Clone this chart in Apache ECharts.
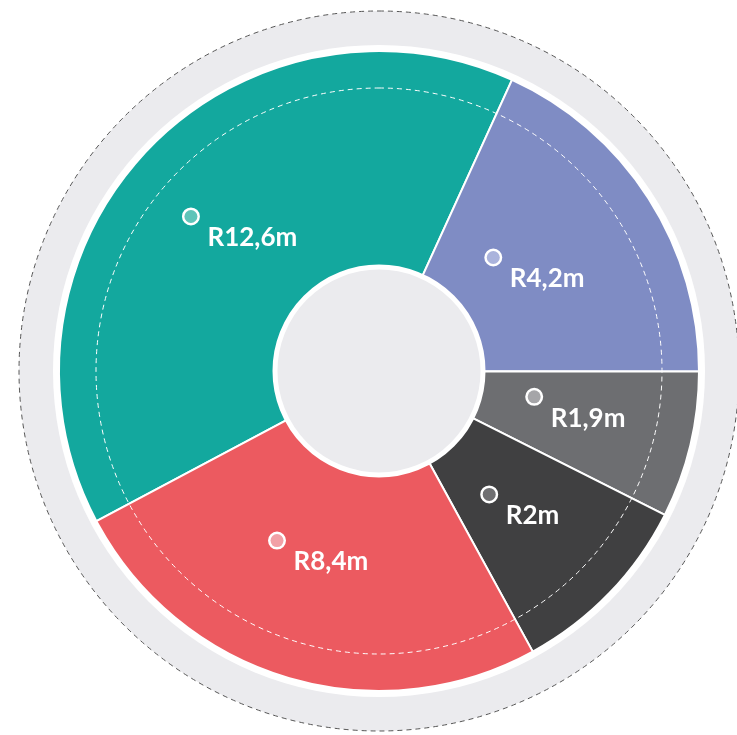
<!DOCTYPE html>
<html lang="en">
<head>
    <meta charset="UTF-8">
    <script src="https://cdn.jsdelivr.net/npm/echarts@6/dist/echarts.min.js"></script>
    <title>Ring</title>
</head>
<body>
    <style>
        html, body, #main {
            margin: 0;
            width: 737px;
            height: 735px;
            background: #fff;
        }
    </style>
    <div id="main"></div>
    <script>
        // slices, clockwise from the lower left
        var labels = ['R12,6m', 'R4,2m', 'R1,9m', 'R2m', 'R8,4m'];
        // share of the ring (%)
        var shares = [39.6, 18.2, 7.4, 9.6, 25.2];
        var colors = ['#13a89e', '#7f8cc4', '#6d6e71', '#404041', '#ec5a60'];
        var dotColors = ['#5ec4b9', '#aab3dc', '#a5a5a8', '#6f6f71', '#f2a0a6'];
        var labelOffsets = [[22, 5], [-10, 15], [3, -10], [12, -11], [14, -21]];

        var center = [379, 371];

        function plainCircle(radius, style, z) {
            return {
                type: 'pie',
                center: center,
                radius: radius,
                silent: true,
                z: z,
                label: { show: false },
                labelLine: { show: false },
                emphasis: { disabled: true },
                itemStyle: style,
                data: [{ value: 1 }]
            };
        }

        var rich = {};
        var data = labels.map(function (name, i) {
            rich['dot' + i] = {
                width: 13,
                height: 13,
                borderRadius: 8,
                borderWidth: 2.5,
                borderColor: '#fff',
                backgroundColor: dotColors[i],
                align: 'left',
                lineHeight: 16
            };
            return {
                name: name,
                value: shares[i],
                itemStyle: { color: colors[i] },
                label: { offset: labelOffsets[i] }
            };
        });
        rich.txt = {
            fontFamily: 'Lato',
            fontWeight: 'bold',
            fontSize: 26,
            color: '#fff',
            align: 'left',
            width: 100,
            lineHeight: 27,
            padding: [0, 0, 0, 23]
        };

        var chart = echarts.init(document.getElementById('main'));
        chart.setOption({
            animation: false,
            series: [
                plainCircle(360, { color: '#ebebee', borderColor: '#555', borderWidth: 1, borderType: [5, 4] }, 1),
                plainCircle(326, { color: '#fff' }, 2),
                {
                    type: 'pie',
                    center: center,
                    radius: [100, 320],
                    startAngle: 208,
                    z: 3,
                    avoidLabelOverlap: false,
                    silent: true,
                    itemStyle: { borderColor: '#fff', borderWidth: 2 },
                    label: {
                        show: true,
                        position: 'inside',
                        formatter: function (p) {
                            return '{dot' + p.dataIndex + '|}\n{txt|' + p.name + '}';
                        },
                        rich: rich
                    },
                    labelLine: { show: false },
                    data: data
                },
                plainCircle(283, { color: 'rgba(0,0,0,0)', borderColor: '#fff', borderWidth: 1, borderType: [5, 4] }, 4),
                plainCircle(104, { color: '#ebebee', borderColor: '#fff', borderWidth: 5 }, 5)
            ]
        });
    </script>
</body>
</html>
